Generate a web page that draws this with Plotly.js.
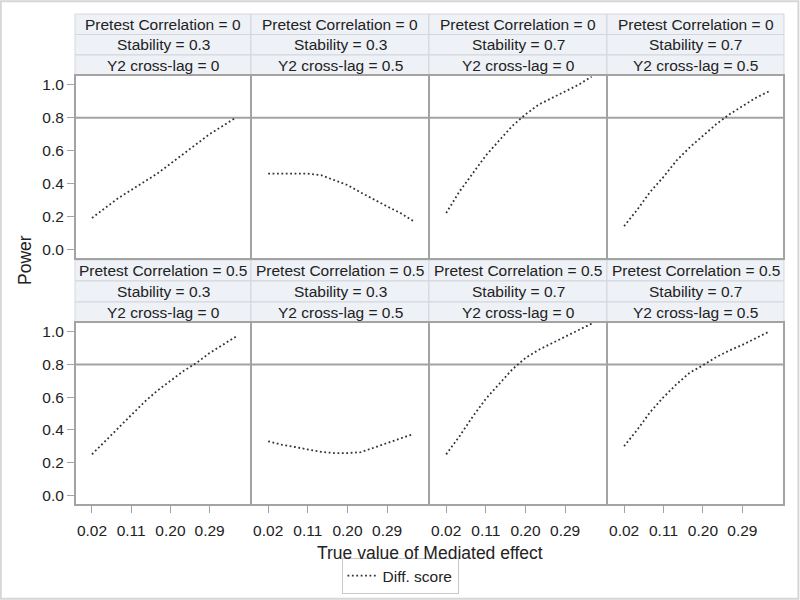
<!DOCTYPE html>
<html>
<head>
<meta charset="utf-8">
<script src="https://cdn.plot.ly/plotly-3.0.1.min.js"></script>
<style>
  html, body { margin: 0; padding: 0; background: #fff; }
  #graph { width: 800px; height: 600px; }
</style>
</head>
<body>
<div id="graph"></div>
<script>
// true value of the mediated effect (x for every panel)
var effect = [0.02, 0.05, 0.08, 0.11, 0.14, 0.17, 0.20, 0.23, 0.26, 0.29, 0.32, 0.35];

// panel labels, in reading order (top row then bottom row)
var pretestCorr = ['0', '0', '0', '0', '0.5', '0.5', '0.5', '0.5'];
var stability = ['0.3', '0.3', '0.7', '0.7', '0.3', '0.3', '0.7', '0.7'];
var crossLag = ['0', '0.5', '0', '0.5', '0', '0.5', '0', '0.5'];

// power of the difference score, one array per panel
var powerR0S3L0 = [0.19, 0.25, 0.31, 0.36, 0.41, 0.46, 0.52, 0.58, 0.64, 0.70, 0.75, 0.80];
var powerR0S3L5 = [0.46, 0.46, 0.46, 0.46, 0.45, 0.42, 0.39, 0.345, 0.30, 0.26, 0.22, 0.17];
var powerR0S7L0 = [0.22, 0.35, 0.46, 0.57, 0.66, 0.75, 0.82, 0.88, 0.92, 0.96, 1.00, 1.05];
var powerR0S7L5 = [0.14, 0.24, 0.35, 0.44, 0.54, 0.62, 0.69, 0.76, 0.82, 0.87, 0.92, 0.96];
var powerR5S3L0 = [0.25, 0.33, 0.41, 0.49, 0.57, 0.64, 0.70, 0.76, 0.81, 0.87, 0.92, 0.97];
var powerR5S3L5 = [0.33, 0.31, 0.295, 0.28, 0.265, 0.258, 0.258, 0.263, 0.29, 0.32, 0.345, 0.375];
var powerR5S7L0 = [0.25, 0.36, 0.48, 0.59, 0.68, 0.77, 0.84, 0.89, 0.93, 0.97, 1.01, 1.05];
var powerR5S7L5 = [0.30, 0.40, 0.51, 0.60, 0.68, 0.75, 0.795, 0.845, 0.885, 0.92, 0.96, 1.00];

var xTickVals = [0.02, 0.11, 0.20, 0.29];
var xTickText = ['0.02', '0.11', '0.20', '0.29'];
var yTickVals = [0, 0.2, 0.4, 0.6, 0.8, 1.0];
var yTickText = ['0.0', '0.2', '0.4', '0.6', '0.8', '1.0'];

var panels = [powerR0S3L0, powerR0S3L5, powerR0S7L0, powerR0S7L5,
              powerR5S3L0, powerR5S3L5, powerR5S7L0, powerR5S7L5];

// pixel edges of the panel grid (page is 800x600, margins 0)
var colEdges = [75, 251, 429, 607, 784];
var rowPlot = [[75, 259], [322, 505]];
var rowStrips = [[14, 34.5, 55, 75], [260, 281, 302, 322]];

function px(x) { return x / 800; }
function py(y) { return 1 - y / 600; }

var textColor = '#222';
var frameColor = '#a3a3a3';

var data = [];
var layout = {
    width: 800,
    height: 600,
    margin: {l: 0, r: 0, t: 0, b: 0},
    paper_bgcolor: '#fff',
    plot_bgcolor: '#fff',
    font: {family: 'Liberation Sans, Arial, sans-serif', size: 15, color: textColor},
    showlegend: true,
    legend: {
        x: 0.5, xanchor: 'center',
        y: py(576), yanchor: 'middle',
        orientation: 'h',
        bordercolor: '#c8c8c8', borderwidth: 1,
        font: {size: 15.5, color: textColor},
        tracegroupgap: 0
    },
    annotations: [],
    shapes: []
};

for (var i = 0; i < panels.length; i += 1) {
    var col = i % 4;
    var row = Math.floor(i / 4);
    var n = i === 0 ? '' : String(i + 1);
    data.push({
        x: effect,
        y: panels[i],
        xaxis: 'x' + n,
        yaxis: 'y' + n,
        type: 'scatter',
        mode: 'lines',
        name: 'Diff. score',
        showlegend: i === 0,
        line: {color: '#333', width: 1.8, dash: '1.8px,2.6px'},
        hoverinfo: 'x+y'
    });
    layout['xaxis' + n] = {
        domain: [px(colEdges[col]), px(colEdges[col + 1])],
        anchor: 'y' + n,
        range: [-0.019, 0.385],
        tickvals: xTickVals,
        ticktext: xTickText,
        showticklabels: row === 1,
        ticks: row === 1 ? 'outside' : '',
        ticklen: 7,
        ticklabelstandoff: 4,
        tickcolor: frameColor,
        showgrid: false,
        zeroline: false,
        showline: false,
        tickfont: {size: 15.5, color: textColor}
    };
    layout['yaxis' + n] = {
        domain: [py(rowPlot[row][1]), py(rowPlot[row][0])],
        anchor: 'x' + n,
        range: [-0.06, 1.06],
        tickvals: yTickVals,
        ticktext: yTickText,
        showticklabels: col === 0,
        ticks: col === 0 ? 'outside' : '',
        ticklen: 7,
        tickcolor: frameColor,
        showgrid: false,
        zeroline: false,
        showline: false,
        tickfont: {size: 15.5, color: textColor}
    };

    // panel frame
    layout.shapes.push({
        type: 'rect', xref: 'paper', yref: 'paper',
        x0: px(colEdges[col]), x1: px(colEdges[col + 1]),
        y0: py(rowPlot[row][1]), y1: py(rowPlot[row][0]),
        line: {color: frameColor, width: 2}
    });

    // three strip headers above each panel
    var labels = ['Pretest Correlation = ' + pretestCorr[i],
                  'Stability = ' + stability[i],
                  'Y2 cross-lag = ' + crossLag[i]];
    var s = rowStrips[row];
    for (var k = 0; k < 3; k += 1) {
        layout.shapes.push({
            type: 'rect', xref: 'paper', yref: 'paper',
            x0: px(colEdges[col]), x1: px(colEdges[col + 1]),
            y0: py(s[k + 1]), y1: py(s[k]),
            fillcolor: '#eef1f6',
            line: {color: '#d3d7dd', width: 1},
            layer: 'below'
        });
        layout.annotations.push({
            xref: 'paper', yref: 'paper',
            x: px((colEdges[col] + colEdges[col + 1]) / 2),
            y: py((s[k] + s[k + 1]) / 2),
            xanchor: 'center', yanchor: 'middle',
            text: labels[k],
            showarrow: false,
            font: {size: 15.5, color: textColor}
        });
    }
}

// 0.8 reference line across each row
layout.shapes.push({
    type: 'line', xref: 'paper', yref: 'y',
    x0: px(colEdges[0]), x1: px(colEdges[4]), y0: 0.8, y1: 0.8,
    line: {color: frameColor, width: 2}, layer: 'below'
});
layout.shapes.push({
    type: 'line', xref: 'paper', yref: 'y5',
    x0: px(colEdges[0]), x1: px(colEdges[4]), y0: 0.8, y1: 0.8,
    line: {color: frameColor, width: 2}, layer: 'below'
});

// outer frame of the figure
layout.shapes.push({
    type: 'rect', xref: 'paper', yref: 'paper',
    x0: 0.001, x1: 0.998, y0: 0.002, y1: 0.998,
    line: {color: '#d6d6d6', width: 2}
});

// axis titles
layout.annotations.push({
    xref: 'paper', yref: 'paper',
    x: px(429.5), y: py(553),
    xanchor: 'center', yanchor: 'middle',
    text: 'True value of Mediated effect',
    showarrow: false,
    font: {size: 17.5, color: textColor}
});
layout.annotations.push({
    xref: 'paper', yref: 'paper',
    x: px(25), y: py(260),
    xanchor: 'center', yanchor: 'middle',
    text: 'Power',
    textangle: -90,
    showarrow: false,
    font: {size: 17.5, color: textColor}
});

Plotly.newPlot('graph', data, layout, {displayModeBar: false, staticPlot: true});
</script>
</body>
</html>
